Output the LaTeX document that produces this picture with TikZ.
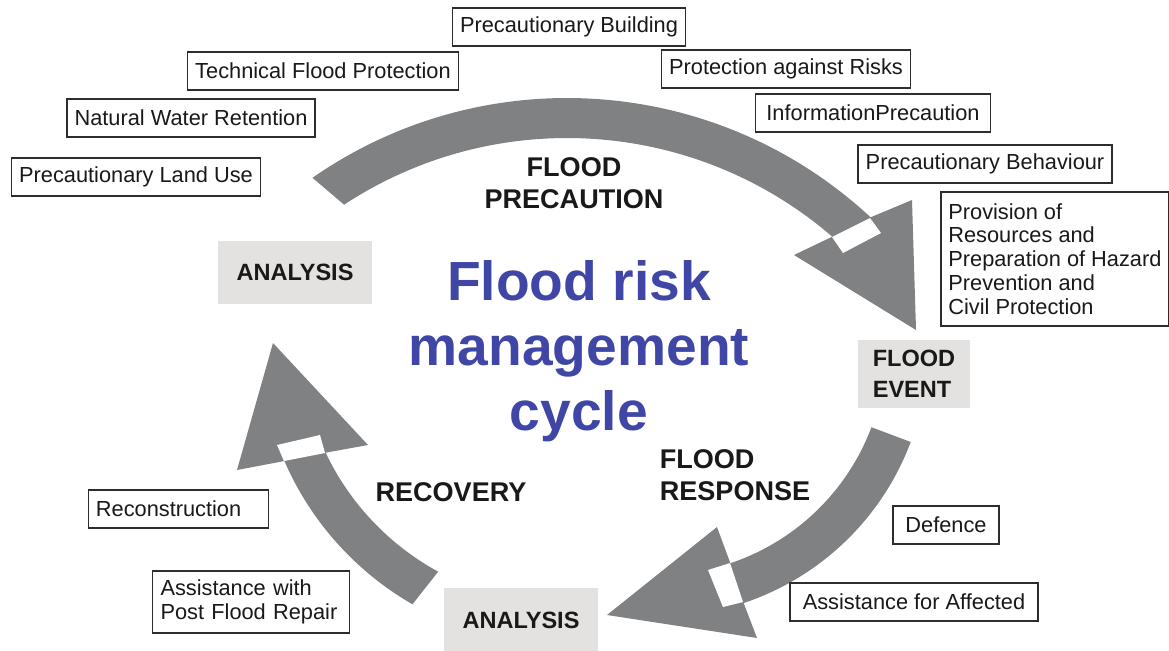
\documentclass[tikz,border=0pt]{standalone}
\usepackage{fontspec}
\setmainfont{Liberation Sans}
\usetikzlibrary{calc}

\definecolor{grisfleche}{RGB}{128,129,131}
\definecolor{grisboite}{RGB}{227,226,224}
\definecolor{bleutitre}{RGB}{64,70,165}
\definecolor{traitboite}{RGB}{45,45,45}

\tikzset{
  mesure/.style={draw=traitboite, line width=0.9pt, fill=white, inner xsep=4.3pt, inner ysep=5pt,
    minimum height=0.76cm, align=left, text=black!90, font=\fontsize{12.4}{13.6}\selectfont},
  etape/.style={fill=grisboite, inner sep=0pt, align=left, text=black!90,
    font=\bfseries\fontsize{13.4}{17.6}\selectfont},
  phase/.style={text=black!90, font=\bfseries\fontsize{15.4}{18.1}\selectfont},
  fleche/.style={fill=grisfleche},
  encoche/.style={fill=white}
}

\begin{document}
\begin{tikzpicture}[x=0.02cm, y=-0.02cm]
        \useasboundingbox (0,0) rectangle (1169,650);

        % Fleche du haut (precaution)
        \coordinate (c1) at (567,544);
        \fill[fleche] ($(c1)+(-124.8:446)$) arc[start angle=-124.8, end angle=-47.1, radius=446]
          -- (912,200) -- (916,330) -- (794,255)
          -- ($(c1)+(-49.2:406)$) arc[start angle=-49.2, end angle=-123.3, radius=406] -- cycle;
        \fill[encoche] (832,237) -- (870,218) -- (881,233) -- (843,253) -- cycle;

        % Fleche de droite (reponse)
        \coordinate (c2) at (658,347);
        \fill[fleche] ($(c2)+(20.6:270)$) arc[start angle=20.6, end angle=71.5, radius=270]
          -- (757,638) -- (607,615) -- (717,527)
          -- ($(c2)+(71.5:228)$) arc[start angle=71.5, end angle=20.6, radius=228] -- cycle;
        \fill[encoche] (730,563) -- (743,602) -- (723,607) -- (708,570) -- cycle;

        % Fleche de gauche (recuperation)
        \coordinate (c3) at (565,339);
        \fill[fleche] ($(c3)+(119.9:306)$) arc[start angle=119.9, end angle=156.5, radius=306]
          -- (237,470) -- (273,343) -- (368,445)
          -- ($(c3)+(154.6:265)$) arc[start angle=154.6, end angle=118.6, radius=265] -- cycle;
        \fill[encoche] (284,461) -- (325,453) -- (320,435) -- (277,445) -- cycle;

        % Titre au centre
        \node[text=bleutitre, align=center, font=\bfseries\fontsize{31.4}{36.9}\selectfont]
          (titre) at (579,351) {Flood risk\\management\\cycle};

        % Etapes (boites grises)
        \node[etape, minimum width=3.1cm, minimum height=1.26cm] (analyse1) at (295,272) {ANALYSIS};
        \node[etape, minimum width=2.24cm, minimum height=1.36cm] (evenement) at (914,374) {FLOOD\\EVENT};
        \node[etape, minimum width=3.08cm, minimum height=1.3cm] (analyse2) at (521,620) {ANALYSIS};

        % Phases
        \node[phase, align=center] (precaution) at (574,183) {FLOOD\\PRECAUTION};
        \node[phase, align=left] (reponse) at (735,475) {FLOOD\\RESPONSE};
        \node[phase] (recuperation) at (451,492) {RECOVERY};

        % Mesures de precaution
        \node[mesure] (batiment) at (569,27) {Precautionary Building};
        \node[mesure] (technique) at (323,71) {Technical Flood Protection};
        \node[mesure] (risques) at (786,69) {Protection against Risks};
        \node[mesure] (retention) at (191,118) {Natural Water Retention};
        \node[mesure, minimum width=4.7cm] (information) at (873,113) {InformationPrecaution};
        \node[mesure] (sol) at (136,177) {Precautionary Land Use};
        \node[mesure] (comportement) at (985,164) {Precautionary Behaviour};
        \node[mesure, anchor=north west, inner ysep=6.5pt] (ressources) at (940,191)
          {Provision of\\Resources and\\Preparation of Hazard\\Prevention and\\Civil Protection};

        % Mesures de reponse et de recuperation
        \node[mesure, minimum width=2.12cm] (defense) at (946,525) {Defence};
        \node[mesure, minimum width=4.96cm] (affectes) at (914,602) {Assistance for Affected};
        \node[mesure, text width=94pt] (reconstruction) at (178.5,509) {Reconstruction};
        \node[mesure, text width=103pt, inner xsep=4.5pt] (reparation) at (251,602) {Assistance with\\Post Flood Repair};

    \end{tikzpicture}
\end{document}
